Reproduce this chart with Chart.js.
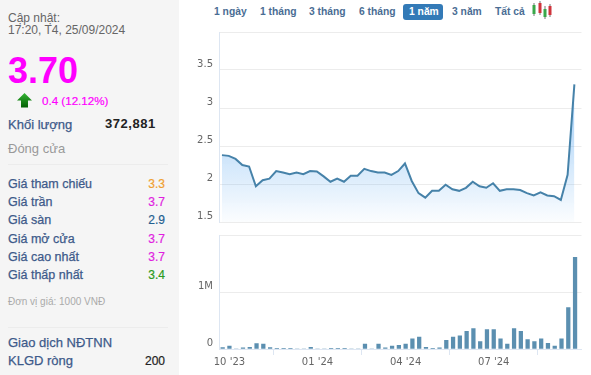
<!DOCTYPE html>
<html lang="vi"><head><meta charset="utf-8">
<script src="https://cdn.jsdelivr.net/npm/chart.js@4"></script>
<style>
html,body{margin:0;padding:0;background:#fff;width:591px;height:375px;overflow:hidden;font-family:"Liberation Sans",Arial,sans-serif}
#side{position:absolute;left:0;top:0;width:179px;height:375px;background:#f5f5f5}
.t{position:absolute;white-space:nowrap;line-height:14px}
.l{left:8px;font-size:12.5px;color:#3d5a8a;-webkit-text-stroke:.25px #3d5a8a}
.v{right:426px;font-size:12px;-webkit-text-stroke:.2px currentColor}
.sep{position:absolute;left:8px;width:160px;height:1px;background:#ececec}
.btn{position:absolute;top:4px;height:16px;line-height:15px;font-size:10.3px;font-weight:bold;color:#4a6d94;white-space:nowrap}
#on{background:#337ab7;color:#fff;border-radius:3px;padding:0 6px;left:403px;width:28px;text-align:center}
canvas{position:absolute}
</style></head><body>
<div id="side"></div>
<div class="t" style="left:8px;top:11px;font-size:12px;color:#666">Cập nhật:</div>
<div class="t" style="left:8px;top:23px;font-size:12px;color:#666">17:20, T4, 25/09/2024</div>
<div class="t" style="left:8px;top:53px;font-size:36px;line-height:36px;font-weight:bold;color:#f0f">3.70</div>
<svg style="position:absolute;left:17px;top:92px" width="15" height="16" viewBox="0 0 15 16"><defs><linearGradient id="g" x1="0" y1="0" x2="0" y2="1"><stop offset="0" stop-color="#35b535"/><stop offset="1" stop-color="#035f03"/></linearGradient></defs><path d="M7.500 1 15 8.500H11V15.500H4V8.500H0Z" fill="url(#g)"/></svg>
<div class="t" style="left:42px;top:94px;font-size:11.6px;color:#f0f;-webkit-text-stroke:.2px #f0f">0.4 (12.12%)</div>
<div class="t l" style="top:118px;font-size:13px">Khối lượng</div>
<div class="t" style="left:105px;top:117px;font-size:13px;font-weight:bold;color:#222;letter-spacing:.55px">372,881</div>
<div class="t" style="left:8px;top:142px;font-size:13px;color:#999">Đóng cửa</div>
<div class="sep" style="top:164px"></div>
<div class="t l" style="top:177px">Giá tham chiếu</div><div class="t v" style="top:177px;color:#f0a030">3.3</div>
<div class="t l" style="top:195px">Giá trần</div><div class="t v" style="top:195px;color:#e01fe0">3.7</div>
<div class="t l" style="top:213px">Giá sàn</div><div class="t v" style="top:213px;color:#1f6090">2.9</div>
<div class="t l" style="top:232px">Giá mở cửa</div><div class="t v" style="top:232px;color:#e01fe0">3.7</div>
<div class="t l" style="top:250px">Giá cao nhất</div><div class="t v" style="top:250px;color:#e01fe0">3.7</div>
<div class="t l" style="top:268px">Giá thấp nhất</div><div class="t v" style="top:268px;color:#2a9a20">3.4</div>
<div class="t" style="left:8px;top:295px;font-size:10px;color:#aaa">Đơn vị giá: 1000 VNĐ</div>
<div class="sep" style="top:327px"></div>
<div class="t l" style="top:336px;font-size:13px">Giao dịch NĐTNN</div>
<div class="t l" style="top:354px;font-size:13px">KLGD ròng</div><div class="t v" style="top:354px;color:#222">200</div>
<div class="btn" style="left:214px">1 ngày</div>
<div class="btn" style="left:260px">1 tháng</div>
<div class="btn" style="left:309px">3 tháng</div>
<div class="btn" style="left:359px">6 tháng</div>
<div class="btn" id="on">1 năm</div>
<div class="btn" style="left:452px">3 năm</div>
<div class="btn" style="left:495px">Tất cả</div>
<svg style="position:absolute;left:531px;top:0" width="22" height="20" viewBox="0 0 22 20"><g stroke-width="1"><path d="M3 3V16M9 1V15M14 6V19M19 4V17" stroke="#777"/><rect x="1.500" y="5" width="3" height="9" fill="#3aa84a"/><rect x="7.500" y="3" width="3" height="10" fill="#d0343c"/><rect x="12.500" y="9" width="3" height="8" fill="#3aa84a"/><rect x="17.500" y="6" width="3" height="9" fill="#d0343c"/></g></svg>
<canvas id="price" style="left:185px;top:20px"></canvas>
<canvas id="vol" style="left:185px;top:223px"></canvas>
<script>
const closePrices=[2.38,2.37,2.33,2.25,2.23,1.97,2.05,2.07,2.17,2.15,2.13,2.15,2.13,2.17,2.165,2.10,2.03,2.07,2.03,2.11,2.11,2.20,2.17,2.15,2.15,2.12,2.17,2.27,2.04,1.88,1.82,1.91,1.91,1.99,1.93,1.91,1.95,2.03,1.97,1.95,2.01,1.91,1.93,1.93,1.92,1.88,1.85,1.89,1.85,1.84,1.79,2.12,3.31];
const volumes=[25000,50000,0,20000,30000,95000,85000,25000,12000,12000,12000,0,0,30000,0,0,12000,12000,12000,0,0,85000,0,85000,20000,50000,65000,85000,180000,210000,30000,5000,20000,150000,210000,230000,310000,360000,130000,340000,340000,180000,85000,360000,310000,165000,130000,180000,100000,50000,180000,725000,1610000];
const dateTicks=[1,14,27,40];
const dateLabels=["10 '23","01 '24","04 '24","07 '24"];
const priceTicks=[1.5,2,2.5,3,3.5,4];
const volumeTicks=[0,1000000,2000000];

const W=406;
function size(id,h){const c=document.getElementById(id);c.width=W;c.height=h;c.style.width=W+'px';c.style.height=h+'px';return c;}
const tickFont={family:'"DejaVu Sans",sans-serif',size:10};
const gridCol='#ececec', frameCol='#dde6f2', labelCol='#666';
const xBase=(min,max)=>({type:'linear',min,max,offset:false});
const yAxis=(min,max,vals,fmt)=>({type:'linear',min,max,
  afterBuildTicks:s=>{s.ticks=vals.map(v=>({value:v}));},
  afterFit:s=>{s.width=34;},
  grid:{color:gridCol,drawTicks:false,lineWidth:1},
  border:{color:frameCol,width:1},
  ticks:{callback:fmt,labelOffset:-6,padding:6,color:labelCol,font:tickFont,autoSkip:false,maxRotation:0}});

new Chart(size('price',214),{type:'line',
  data:{datasets:[{data:closePrices.map((y,x)=>({x,y})),borderColor:'#4682a9',borderWidth:2,pointRadius:0,tension:0,fill:'start',
    backgroundColor:ctx=>{const a=ctx.chart.chartArea;if(!a)return '#dde';const g=ctx.chart.ctx.createLinearGradient(0,a.top+54,0,a.bottom);g.addColorStop(0,'rgba(85,165,240,.58)');g.addColorStop(1,'rgba(85,165,240,.02)');return g;}}]},
  options:{responsive:false,animation:false,events:[],layout:{padding:{left:0,right:9.5,top:9.5,bottom:4}},
    plugins:{legend:{display:false},tooltip:{enabled:false}},
    scales:{x:{...xBase(-0.44,53.05),display:false},
      y:yAxis(1.5,4,priceTicks,v=>v===4?'':String(v))}}});

new Chart(size('vol',154),{type:'bar',
  data:{datasets:[{data:volumes.map((y,x)=>({x,y})),backgroundColor:'#5b8fb0',barThickness:3.6}]},
  options:{responsive:false,animation:false,events:[],layout:{padding:{left:0,right:9.5,top:9.5,bottom:0}},
    plugins:{legend:{display:false},tooltip:{enabled:false}},
    scales:{x:{...xBase(-0.54,52.95),
        afterBuildTicks:s=>{s.ticks=dateTicks.map(v=>({value:v}));},
        afterFit:s=>{s.height=28;},
        grid:{drawOnChartArea:false,color:frameCol,tickLength:6},
        border:{color:frameCol},
        ticks:{callback:v=>dateLabels[dateTicks.indexOf(v)],color:labelCol,font:tickFont,padding:1,autoSkip:false,maxRotation:0}},
      y:yAxis(0,2000000,volumeTicks,v=>v===0?'0':v===1000000?'1M':'')}}});
</script>
</body></html>
